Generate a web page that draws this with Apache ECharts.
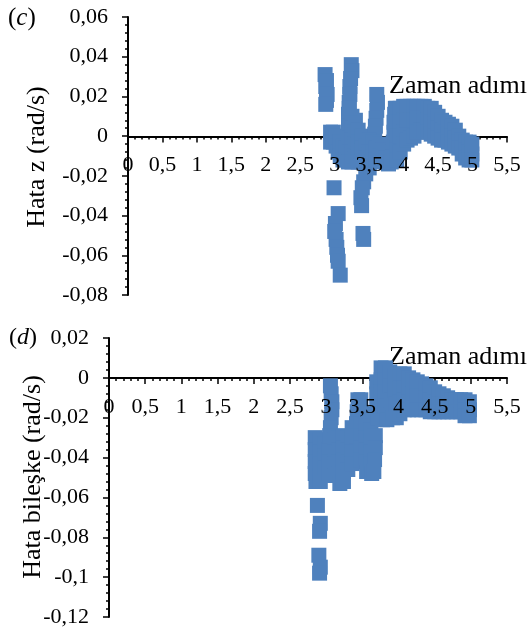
<!DOCTYPE html>
<html>
<head>
<meta charset="utf-8">
<script src="https://cdn.jsdelivr.net/npm/echarts@6/dist/echarts.min.js"></script>
<style>
html, body { margin: 0; padding: 0; background: #fff; }
#main { width: 530px; height: 635px; }
</style>
</head>
<body>
<div id="main"></div>
<script>
// (c) Hata z (rad/s) — [zaman, hata]
var zPoints = [
    [2.86, 0.031], [2.88, 0.028], [2.87, 0.025], [2.89, 0.021], [2.88, 0.018], [2.87, 0.016],
    [2.94, 0.002], [2.94, -0.003], [2.98, 0.002], [2.98, -0.003], [3.02, 0.0], [3.02, -0.005],
    [3.05, -0.008], [3.08, -0.003], [3.08, -0.010], [3.12, -0.005], [3.12, -0.012],
    [3.16, -0.006], [3.16, -0.012],
    [3.2, 0.011], [3.2, 0.005], [3.2, -0.001], [3.2, -0.008], [3.2, -0.013],
    [3.25, 0.010], [3.25, 0.004], [3.25, -0.002], [3.25, -0.008], [3.25, -0.013],
    [3.3, 0.008], [3.3, 0.002], [3.3, -0.004], [3.3, -0.010],
    [3.34, 0.003], [3.34, -0.003], [3.34, -0.009], [3.34, -0.013],
    [3.4, 0.0], [3.4, -0.006], [3.45, -0.005], [3.45, -0.011],
    [2.99, -0.026], [3.05, -0.039], [3.01, -0.044], [3.0, -0.048], [3.02, -0.052],
    [3.03, -0.056], [3.04, -0.060], [3.05, -0.063], [3.08, -0.070],
    [3.24, 0.036], [3.25, 0.033], [3.23, 0.029], [3.22, 0.025], [3.22, 0.021],
    [3.21, 0.017], [3.21, 0.014],
    [3.5, -0.016], [3.45, -0.019], [3.42, -0.023], [3.4, -0.026], [3.38, -0.031],
    [3.39, -0.035], [3.41, -0.049], [3.42, -0.052],
    [3.61, 0.021], [3.62, 0.017], [3.61, 0.013], [3.6, 0.009], [3.59, 0.005], [3.58, 0.001],
    [3.5, -0.002], [3.5, -0.008], [3.5, -0.013], [3.55, -0.003], [3.55, -0.008],
    [3.6, -0.006], [3.6, -0.012], [3.65, -0.004], [3.65, -0.010],
    [3.7, -0.007], [3.7, -0.013],
    [3.75, -0.011], [3.78, -0.014], [3.82, -0.013], [3.84, -0.008], [3.85, -0.003],
    [3.86, 0.002], [3.86, 0.007], [3.87, 0.011], [3.88, 0.014],
    [3.9, 0.014], [3.9, 0.007], [3.9, 0.0], [3.9, -0.007], [3.9, -0.012],
    [3.95, 0.014], [3.95, 0.007], [3.95, 0.0], [3.95, -0.008],
    [4.0, 0.015], [4.0, 0.008], [4.0, 0.002], [4.0, -0.004],
    [4.05, 0.015], [4.05, 0.008], [4.05, -0.002],
    [4.1, 0.015], [4.1, 0.008], [4.1, -0.001],
    [4.15, 0.015], [4.15, 0.008], [4.15, 0.0],
    [4.2, 0.015], [4.2, 0.009], [4.2, 0.002],
    [4.25, 0.015], [4.25, 0.009], [4.25, 0.003],
    [4.3, 0.015], [4.3, 0.009], [4.3, 0.003],
    [4.35, 0.014], [4.35, 0.008], [4.35, 0.002],
    [4.4, 0.014], [4.4, 0.007], [4.4, 0.001],
    [4.45, 0.012], [4.45, 0.006], [4.45, 0.0],
    [4.5, 0.010], [4.5, 0.004], [4.5, -0.001],
    [4.55, 0.008], [4.55, 0.003], [4.55, -0.002],
    [4.6, 0.007], [4.6, 0.002], [4.6, -0.002],
    [4.65, 0.006], [4.65, 0.001], [4.65, -0.003],
    [4.7, 0.005], [4.7, 0.0], [4.7, -0.004],
    [4.75, 0.003], [4.75, -0.001], [4.75, -0.005],
    [4.8, 0.0], [4.8, -0.003], [4.8, -0.006],
    [4.85, -0.002], [4.85, -0.006], [4.85, -0.009],
    [4.9, -0.003], [4.9, -0.007], [4.9, -0.011],
    [4.95, -0.003], [4.95, -0.008], [4.95, -0.012],
    [4.99, -0.004], [4.99, -0.009], [4.99, -0.012]
];

// (d) Hata bileşke (rad/s) — [zaman, hata]
var bPoints = [
    [2.85, -0.030], [2.85, -0.036], [2.85, -0.042], [2.85, -0.048], [2.86, -0.052],
    [2.92, -0.031], [2.92, -0.037], [2.92, -0.043], [2.92, -0.049], [2.92, -0.052],
    [2.98, -0.033], [2.98, -0.039], [2.98, -0.045],
    [3.04, -0.036], [3.04, -0.042], [3.04, -0.048],
    [2.88, -0.064], [2.92, -0.073], [2.91, -0.077], [2.9, -0.089], [2.92, -0.095], [2.91, -0.098],
    [3.06, -0.004], [3.07, -0.008], [3.08, -0.012], [3.08, -0.016], [3.07, -0.020],
    [3.06, -0.025], [3.05, -0.029],
    [3.12, -0.031], [3.12, -0.037], [3.12, -0.043], [3.12, -0.049],
    [3.18, -0.030], [3.18, -0.036], [3.18, -0.042], [3.18, -0.048], [3.19, -0.053],
    [3.24, -0.029], [3.24, -0.035], [3.24, -0.041], [3.24, -0.047], [3.24, -0.052],
    [3.3, -0.030], [3.3, -0.036], [3.3, -0.042], [3.3, -0.046],
    [3.36, -0.025], [3.36, -0.031], [3.36, -0.037], [3.36, -0.043],
    [3.44, -0.011], [3.43, -0.017], [3.42, -0.023], [3.42, -0.029],
    [3.48, -0.011], [3.48, -0.017], [3.48, -0.023], [3.48, -0.029], [3.48, -0.035], [3.48, -0.041],
    [3.55, -0.018], [3.55, -0.024], [3.55, -0.030], [3.55, -0.036], [3.55, -0.042], [3.56, -0.047],
    [3.62, -0.026], [3.62, -0.031], [3.62, -0.037], [3.62, -0.043], [3.63, -0.048],
    [3.68, -0.029], [3.68, -0.035], [3.67, -0.041], [3.66, -0.047],
    [3.7, -0.002], [3.7, -0.008], [3.7, -0.014], [3.72, -0.020],
    [3.76, 0.005], [3.76, -0.001], [3.76, -0.007], [3.76, -0.014], [3.78, -0.021],
    [3.82, 0.005], [3.82, -0.001], [3.82, -0.007], [3.82, -0.014], [3.84, -0.021],
    [3.88, 0.003], [3.88, -0.004], [3.9, -0.011], [3.92, -0.020],
    [3.95, 0.001], [3.95, -0.006], [3.96, -0.013], [3.97, -0.020],
    [4.02, 0.002], [4.02, -0.005], [4.02, -0.012], [4.02, -0.018],
    [4.08, 0.002], [4.08, -0.005], [4.08, -0.011], [4.08, -0.016],
    [4.14, 0.0], [4.14, -0.006], [4.14, -0.012], [4.14, -0.016],
    [4.2, -0.001], [4.2, -0.008], [4.2, -0.015],
    [4.26, -0.002], [4.26, -0.009], [4.26, -0.016],
    [4.32, -0.003], [4.32, -0.009], [4.32, -0.016],
    [4.38, -0.004], [4.38, -0.010], [4.38, -0.016],
    [4.44, -0.005], [4.44, -0.011], [4.44, -0.017],
    [4.5, -0.007], [4.5, -0.012], [4.5, -0.017],
    [4.56, -0.008], [4.56, -0.013], [4.56, -0.017],
    [4.62, -0.009], [4.62, -0.013], [4.62, -0.017],
    [4.68, -0.010], [4.68, -0.014], [4.68, -0.017],
    [4.74, -0.011], [4.74, -0.017],
    [4.8, -0.011], [4.8, -0.017],
    [4.86, -0.011], [4.86, -0.017],
    [4.92, -0.011], [4.92, -0.016], [4.92, -0.019],
    [4.98, -0.012], [4.98, -0.016], [4.98, -0.019]
];

var xTitle = 'Zaman adımı';
var zTitle = 'Hata z (rad/s)';
var bTitle = 'Hata bileşke (rad/s)';

var serif = 'Liberation Serif, Times New Roman, serif';

function fmt(v) {
    return String(Math.round(v * 1000) / 1000).replace('.', ',');
}

// x axis sits on the zero line: shift it up from the grid bottom.
// line + ticks stay under the markers, labels go on top of them (second copy)
function timeAxis(gridIndex, offset, labelsOnly) {
    return {
        type: 'value', gridIndex: gridIndex, position: 'bottom', offset: offset,
        min: 0, max: 5.5, interval: 0.5,
        z: labelsOnly ? 10 : 0,
        axisLine: { show: !labelsOnly, onZero: false, lineStyle: { color: '#000', width: 2 } },
        axisTick: { show: !labelsOnly, length: 6, lineStyle: { color: '#000', width: 1.5 } },
        minorTick: { show: !labelsOnly, splitNumber: 5, length: 3, lineStyle: { color: '#000', width: 1.5 } },
        splitLine: { show: false },
        axisLabel: { show: !!labelsOnly, margin: 18, color: '#000', fontSize: 22, fontFamily: serif, formatter: fmt }
    };
}

function errorAxis(gridIndex, min, max) {
    return {
        type: 'value', gridIndex: gridIndex,
        min: min, max: max, interval: 0.02,
        axisLine: { onZero: false, lineStyle: { color: '#000', width: 2 } },
        axisTick: { length: 6, lineStyle: { color: '#000', width: 1.5 } },
        minorTick: { show: true, splitNumber: 5, length: 3, lineStyle: { color: '#000', width: 1.5 } },
        splitLine: { show: false },
        axisLabel: { margin: 20, color: '#000', fontSize: 22, fontFamily: serif, formatter: fmt }
    };
}

var myChart = echarts.init(document.getElementById('main'));

var option = {
    animation: false,
    backgroundColor: '#fff',
    grid: [
        { left: 128, top: 17, width: 379, height: 278 },
        { left: 109, top: 338, width: 398, height: 279 }
    ],
    xAxis: [
        timeAxis(0, -158.4, false), timeAxis(1, -239.1, false),
        timeAxis(0, -158.4, true), timeAxis(1, -239.1, true)
    ],
    yAxis: [errorAxis(0, -0.08, 0.06), errorAxis(1, -0.12, 0.02)],
    graphic: [
        { type: 'text', left: 8, top: 6, style: { text: '({i|c})', rich: { i: { fontStyle: 'italic', fontSize: 25, fontFamily: serif } }, fontSize: 25, fontFamily: serif, fill: '#000' } },
        { type: 'text', left: 9, top: 326, style: { text: '({i|d})', rich: { i: { fontStyle: 'italic', fontSize: 24, fontFamily: serif } }, fontSize: 24, fontFamily: serif, fill: '#000' } },
        { type: 'text', x: 389, y: 86, style: { text: xTitle, fontSize: 26, fontFamily: serif, fill: '#000', align: 'left', verticalAlign: 'middle' } },
        { type: 'text', x: 389, y: 357, style: { text: xTitle, fontSize: 26, fontFamily: serif, fill: '#000', align: 'left', verticalAlign: 'middle' } },
        { type: 'text', x: 37, y: 157, rotation: Math.PI / 2, style: { text: zTitle, fontSize: 26, fontFamily: serif, fill: '#000', align: 'center', verticalAlign: 'middle' } },
        { type: 'text', x: 33, y: 477, rotation: Math.PI / 2, style: { text: bTitle, fontSize: 26, fontFamily: serif, fill: '#000', align: 'center', verticalAlign: 'middle' } }
    ],
    series: [
        {
            type: 'scatter', xAxisIndex: 0, yAxisIndex: 0,
            symbol: 'rect', symbolSize: 15,
            itemStyle: { color: '#4F81BD', opacity: 1 },
            data: zPoints
        },
        {
            type: 'scatter', xAxisIndex: 1, yAxisIndex: 1,
            symbol: 'rect', symbolSize: 15,
            itemStyle: { color: '#4F81BD', opacity: 1 },
            data: bPoints
        }
    ]
};
myChart.setOption(option);
</script>
</body>
</html>
